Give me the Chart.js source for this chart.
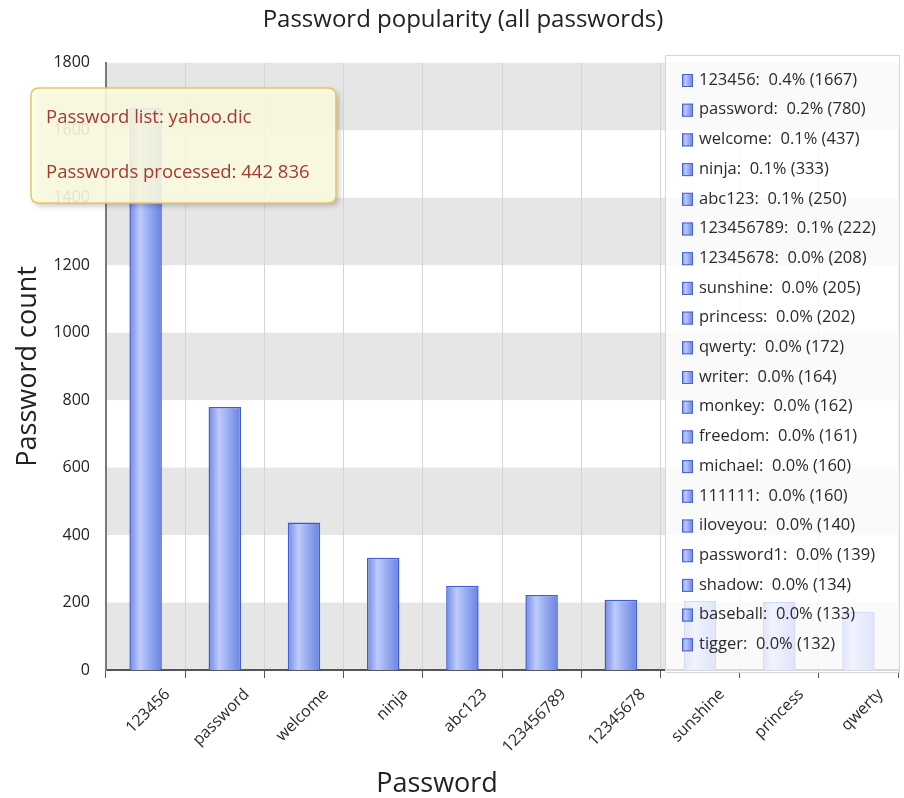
<!DOCTYPE html>
<html>
<head>
<meta charset="utf-8">
<title>Password popularity</title>
<script src="https://cdn.jsdelivr.net/npm/chart.js@4.4.1/dist/chart.umd.min.js"></script>
<style>
  html, body { margin: 0; padding: 0; background: #ffffff; }
  #wrap { width: 904px; height: 798px; }
</style>
</head>
<body>
<div id="wrap"><canvas id="pwChart" width="904" height="798"></canvas></div>
<script>
// top 20 passwords of the list, most common first
const topNames = ['123456', 'password', 'welcome', 'ninja', 'abc123', '123456789', '12345678',
  'sunshine', 'princess', 'qwerty', 'writer', 'monkey', 'freedom', 'michael', '111111',
  'iloveyou', 'password1', 'shadow', 'baseball', 'tigger'];
const topCounts = [1667, 780, 437, 333, 250, 222, 208, 205, 202, 172, 164, 162, 161, 160, 160,
  140, 139, 134, 133, 132];
const topShares = ['0.4', '0.2', '0.1', '0.1', '0.1', '0.1', '0.0', '0.0', '0.0', '0.0', '0.0',
  '0.0', '0.0', '0.0', '0.0', '0.0', '0.0', '0.0', '0.0', '0.0'];

// only the first ten get a bar
const barNames = topNames.slice(0, 10);
const barCounts = topCounts.slice(0, 10);

const listName = 'yahoo.dic';
const processed = '442 836';

const yMax = 1800;
const yStep = 200;

const FONT = '"Open Sans", "Noto Sans", sans-serif';

// blue bar fill, light stripe a bit left of centre
function barGradient(ctx, x0, x1) {
  const g = ctx.createLinearGradient(x0, 0, x1, 0);
  g.addColorStop(0, '#6f88e4');
  g.addColorStop(0.32, '#bfcbfb');
  g.addColorStop(0.6, '#98adf2');
  g.addColorStop(1, '#6a82df');
  return g;
}

function roundRect(ctx, x, y, w, h, r) {
  ctx.beginPath();
  ctx.moveTo(x + r, y);
  ctx.lineTo(x + w - r, y);
  ctx.quadraticCurveTo(x + w, y, x + w, y + r);
  ctx.lineTo(x + w, y + h - r);
  ctx.quadraticCurveTo(x + w, y + h, x + w - r, y + h);
  ctx.lineTo(x + r, y + h);
  ctx.quadraticCurveTo(x, y + h, x, y + h - r);
  ctx.lineTo(x, y + r);
  ctx.quadraticCurveTo(x, y, x + r, y);
  ctx.closePath();
}

// alternating grey bands behind the bars
const bandsPlugin = {
  id: 'bands',
  beforeDraw(chart) {
    const { ctx, chartArea, scales } = chart;
    ctx.save();
    ctx.fillStyle = '#e6e6e6';
    for (let v = 0; v < yMax; v += yStep * 2) {
      const yTop = scales.y.getPixelForValue(v + yStep);
      const yBot = scales.y.getPixelForValue(v);
      ctx.fillRect(chartArea.left, yTop, chartArea.right - chartArea.left, yBot - yTop);
    }
    ctx.restore();
  }
};

// legend panel, info box and the x axis title
const overlayPlugin = {
  id: 'overlay',
  afterDraw(chart) {
    const { ctx } = chart;
    ctx.save();

    // legend panel (semi transparent, sits over the plot)
    const lx = 665, ly = 55, lw = 235, lh = 618;
    ctx.fillStyle = 'rgba(255,255,255,0.78)';
    ctx.fillRect(lx, ly, lw, lh);
    ctx.strokeStyle = '#d6d6d6';
    ctx.lineWidth = 1;
    ctx.strokeRect(lx + 0.5, ly + 0.5, lw - 1, lh - 1);

    ctx.font = '16.5px ' + FONT;
    ctx.textBaseline = 'middle';
    ctx.textAlign = 'left';
    const rowH = 29.7;
    for (let i = 0; i < topNames.length; i++) {
      const cy = 80 + i * rowH;
      ctx.fillStyle = barGradient(ctx, 682, 693);
      ctx.fillRect(682, cy - 6, 11, 13);
      ctx.strokeStyle = '#4862d8';
      ctx.lineWidth = 1;
      ctx.strokeRect(682.5, cy - 5.5, 10, 12);
      ctx.fillStyle = '#2a2a2a';
      ctx.fillText(topNames[i] + ':  ' + topShares[i] + '% (' + topCounts[i] + ')', 699, cy);
    }

    // info box
    const bx = 31, by = 88, bw = 305, bh = 115;
    ctx.save();
    ctx.shadowColor = 'rgba(0,0,0,0.25)';
    ctx.shadowBlur = 5;
    ctx.shadowOffsetX = 3;
    ctx.shadowOffsetY = 3;
    roundRect(ctx, bx, by, bw, bh, 8);
    ctx.fillStyle = 'rgba(255,254,228,0.88)';
    ctx.fill();
    ctx.restore();
    roundRect(ctx, bx, by, bw, bh, 8);
    ctx.strokeStyle = '#e8c462';
    ctx.lineWidth = 1.5;
    ctx.stroke();

    ctx.fillStyle = '#a43a2f';
    ctx.font = '18.5px ' + FONT;
    ctx.fillText('Password list: ' + listName, 46, 118);
    ctx.fillText('Passwords processed: ' + processed, 46, 173);

    // x axis title
    ctx.fillStyle = '#222222';
    ctx.font = '27px ' + FONT;
    ctx.textAlign = 'center';
    ctx.fillText('Password', 437, 784);

    ctx.restore();
  }
};

const ctx = document.getElementById('pwChart').getContext('2d');
new Chart(ctx, {
  type: 'bar',
  data: {
    labels: barNames,
    datasets: [{
      label: 'Password count',
      data: barCounts,
      backgroundColor(c) {
        const xs = c.chart.scales.x;
        if (!xs || c.dataIndex === undefined) return '#8fa3ee';
        const step = xs.getPixelForValue(1) - xs.getPixelForValue(0);
        const cx = xs.getPixelForValue(c.dataIndex);
        if (!isFinite(step) || !isFinite(cx) || step <= 0) return '#8fa3ee';
        const w = step * 0.41;
        return barGradient(c.chart.ctx, cx - w / 2, cx + w / 2);
      },
      borderColor: '#3f5cd6',
      borderWidth: 1.5,
      borderSkipped: 'bottom',
      barPercentage: 0.41,
      categoryPercentage: 1
    }]
  },
  options: {
    responsive: false,
    devicePixelRatio: 1,
    animation: false,
    layout: { padding: { left: 28, right: 6, top: 0, bottom: 0 } },
    plugins: {
      legend: { display: false },
      tooltip: { enabled: false },
      title: {
        display: true,
        text: 'Password popularity (all passwords)',
        color: '#222222',
        font: { family: FONT, size: 24, weight: 'normal' },
        padding: { top: 6, bottom: 28 }
      }
    },
    scales: {
      x: {
        grid: {
          offset: true,
          color: '#d4d4d4',
          tickColor: '#555555',
          tickLength: 8,
          lineWidth: 1
        },
        border: { display: true, color: '#555555', width: 2 },
        ticks: {
          color: '#2a2a2a',
          font: { family: FONT, size: 16 },
          minRotation: 45,
          maxRotation: 45,
          labelOffset: 22,
          padding: 7
        },
        afterFit(scale) { scale.height = 128; }
      },
      y: {
        min: 0,
        max: yMax,
        grid: { display: false, drawTicks: false },
        border: { display: true, color: '#7a7a7a', width: 2 },
        ticks: {
          stepSize: yStep,
          color: '#222222',
          font: { family: FONT, size: 16 },
          padding: 16,
          callback: (v) => String(v)
        },
        title: {
          display: true,
          text: 'Password count',
          color: '#222222',
          font: { family: FONT, size: 27 },
          padding: { top: -16, bottom: 0 }
        },
        afterFit(scale) { scale.width = 78; }
      }
    }
  },
  plugins: [bandsPlugin, overlayPlugin]
});
</script>
</body>
</html>
